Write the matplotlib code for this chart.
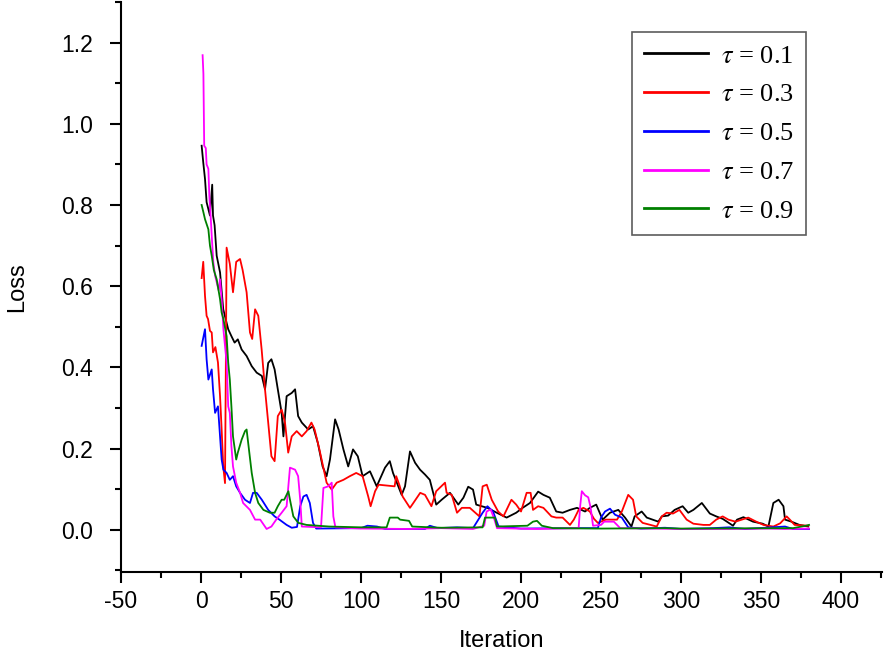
import matplotlib
matplotlib.use("Agg")
import matplotlib.pyplot as plt
from matplotlib.ticker import MultipleLocator

# ── Data (iteration, loss) ───────────────────────────────────────────────────

X_T01 = [0.4, 1.4, 2.5, 3.5, 5.6, 7.0, 7.5, 8.5, 9.8, 11.9, 13.9, 17, 19, 21, 23, 25.4,
         28.5, 31.7, 34.8, 38, 40, 42, 44, 46, 48, 50.4, 51.5, 53.5, 56.7, 58.8, 60.7,
         63, 67, 70, 73, 76, 78.5, 80.6, 83.8, 86, 89, 92, 95, 98, 101, 105.6, 109.8,
         115, 118, 120, 125.4, 127.5, 130.6, 133.8, 136.9, 140, 143, 147, 150.4, 155.6,
         160.8, 164, 167, 170, 172, 175.4, 179, 184.8, 191, 197, 201, 205.6, 210.7, 214,
         218, 222, 226, 230.6, 235, 240, 243, 247, 251, 255.6, 260.8, 265, 269, 271,
         275.4, 278.6, 285.8, 288, 292, 296, 301, 304.5, 307.7, 313, 318, 322, 326,
         332.5, 335, 339, 345, 351, 354.6, 357.7, 361, 364, 365, 369, 374, 379.5]
Y_T01 = [0.946, 0.905, 0.864, 0.807, 0.774, 0.850, 0.774, 0.750, 0.675, 0.634, 0.543,
         0.494, 0.477, 0.461, 0.469, 0.444, 0.428, 0.403, 0.387, 0.379, 0.346, 0.411,
         0.420, 0.395, 0.346, 0.288, 0.230, 0.329, 0.337, 0.346, 0.280, 0.264, 0.247,
         0.255, 0.214, 0.156, 0.132, 0.173, 0.272, 0.247, 0.198, 0.156, 0.198, 0.181,
         0.132, 0.144, 0.107, 0.153, 0.169, 0.140, 0.086, 0.107, 0.193, 0.165, 0.148,
         0.136, 0.123, 0.062, 0.074, 0.091, 0.062, 0.079, 0.106, 0.099, 0.062, 0.058,
         0.054, 0.042, 0.030, 0.042, 0.054, 0.066, 0.094, 0.086, 0.079, 0.045, 0.042,
         0.049, 0.054, 0.045, 0.054, 0.062, 0.025, 0.042, 0.049, 0.030, 0.008, 0.033,
         0.045, 0.030, 0.020, 0.033, 0.035, 0.049, 0.058, 0.042, 0.049, 0.066, 0.040,
         0.033, 0.027, 0.010, 0.025, 0.031, 0.020, 0.015, 0.008, 0.066, 0.074, 0.058,
         0.025, 0.020, 0.012, 0.008]

X_T03 = [0.4, 1.4, 2.5, 3.5, 4.4, 5.6, 6.7, 7.5, 9, 10.6, 11.9, 12.9, 13.9, 15, 15.6, 16,
         18, 20, 22, 24.4, 26, 28.5, 30.6, 32, 33.8, 35.8, 37.9, 40, 42, 44, 46, 48,
         50.4, 52.5, 54.5, 56.7, 59.8, 63, 66, 69, 71, 74, 78.5, 81.7, 84.8, 89, 93, 97,
         101, 104.5, 106, 108.8, 111, 116, 121, 122, 124, 126, 130.6, 132.7, 137, 140,
         144, 147, 152.5, 153.5, 156.7, 160, 163, 168, 174, 176, 178.6, 181.7, 185.7,
         189, 194, 197, 200, 203.5, 206, 207.5, 210.7, 214, 219, 222, 226, 230.6, 233,
         236, 239, 243, 245.6, 248, 253, 260, 263, 267, 270, 272, 276, 284.8, 288, 291,
         295, 299, 303.5, 307.7, 314, 318, 322, 326, 329.6, 334, 342, 347, 351.5, 357.7,
         362, 366, 368, 371, 379.5]
Y_T03 = [0.620, 0.660, 0.576, 0.527, 0.519, 0.490, 0.486, 0.437, 0.450, 0.412, 0.329,
         0.247, 0.156, 0.115, 0.450, 0.695, 0.655, 0.585, 0.660, 0.667, 0.640, 0.585,
         0.486, 0.470, 0.543, 0.527, 0.444, 0.346, 0.264, 0.181, 0.169, 0.280, 0.296,
         0.264, 0.190, 0.230, 0.243, 0.230, 0.243, 0.264, 0.247, 0.198, 0.116, 0.099,
         0.116, 0.123, 0.132, 0.140, 0.132, 0.082, 0.058, 0.095, 0.111, 0.109, 0.107,
         0.132, 0.110, 0.082, 0.054, 0.066, 0.091, 0.086, 0.058, 0.095, 0.116, 0.091,
         0.086, 0.042, 0.054, 0.054, 0.033, 0.107, 0.111, 0.074, 0.045, 0.033, 0.074,
         0.062, 0.045, 0.091, 0.091, 0.049, 0.058, 0.054, 0.033, 0.030, 0.030, 0.012,
         0.025, 0.049, 0.054, 0.045, 0.027, 0.017, 0.025, 0.025, 0.045, 0.086, 0.074,
         0.033, 0.017, 0.008, 0.033, 0.042, 0.040, 0.049, 0.025, 0.015, 0.012, 0.012,
         0.025, 0.033, 0.025, 0.020, 0.030, 0.020, 0.012, 0.008, 0.016, 0.033, 0.025,
         0.012, 0.010]

X_T05 = [0.4, 2.5, 3.5, 4.6, 6.7, 7.5, 8.8, 10.6, 11.9, 12.9, 14, 16, 18, 20, 22, 24.4,
         27.5, 30.6, 32.5, 34.8, 38, 42, 46, 49, 53.5, 56.7, 60, 62, 64, 66, 68, 70, 72,
         100, 104, 110, 115, 140, 143, 148, 160, 170, 176, 179, 182.5, 186, 200, 230,
         248, 250, 252.5, 255.6, 258.8, 263, 267, 275, 290, 300, 320, 330, 340, 365,
         370, 380]
Y_T05 = [0.453, 0.494, 0.420, 0.370, 0.395, 0.346, 0.288, 0.304, 0.230, 0.173, 0.148,
         0.140, 0.123, 0.132, 0.107, 0.091, 0.074, 0.066, 0.091, 0.091, 0.074, 0.049,
         0.033, 0.025, 0.012, 0.005, 0.007, 0.058, 0.082, 0.086, 0.066, 0.017, 0.003,
         0.004, 0.010, 0.008, 0.002, 0.002, 0.010, 0.004, 0.006, 0.004, 0.042, 0.058,
         0.045, 0.008, 0.003, 0.004, 0.004, 0.030, 0.045, 0.052, 0.037, 0.030, 0.006,
         0.003, 0.005, 0.002, 0.004, 0.006, 0.002, 0.008, 0.002, 0.002]

X_T07 = [1, 1.5, 2, 3, 3.5, 4.6, 5.2, 6, 6.7, 7.7, 8.8, 9.8, 11, 11.9, 12.9, 14, 16, 17,
         18, 19, 20, 22, 24.4, 26.3, 30.6, 33.8, 37, 41, 44, 47, 50.4, 53.5, 55.6, 58.8,
         60.7, 62, 63, 75, 76.5, 79.5, 81.7, 82.7, 84, 100, 130, 150, 170, 177, 178.5,
         181, 183, 185, 210, 236, 237, 238, 240, 242, 243.5, 245, 250, 252, 258, 262,
         300, 330, 355, 365, 380]
Y_T07 = [1.169, 1.123, 0.946, 0.940, 0.900, 0.889, 0.823, 0.774, 0.724, 0.659, 0.626,
         0.610, 0.590, 0.617, 0.568, 0.494, 0.412, 0.304, 0.288, 0.206, 0.156, 0.116,
         0.091, 0.066, 0.049, 0.025, 0.025, 0.002, 0.008, 0.025, 0.042, 0.058, 0.153,
         0.148, 0.132, 0.074, 0.008, 0.006, 0.103, 0.107, 0.116, 0.033, 0.006, 0.003,
         0.002, 0.004, 0.002, 0.010, 0.045, 0.050, 0.030, 0.004, 0.002, 0.004, 0.060,
         0.095, 0.085, 0.080, 0.055, 0.010, 0.012, 0.020, 0.020, 0.004, 0.002, 0.002,
         0.003, 0.002, 0.003]

X_T09 = [0.4, 1.5, 2.5, 4.6, 5.6, 6.7, 8, 9.8, 11.9, 12.9, 14, 16, 17, 18, 19, 20, 22, 23,
         25.4, 27.5, 28.5, 30.2, 31.7, 33.8, 35.8, 39, 43, 46, 48, 50.4, 52, 54.6, 55.6,
         57.7, 60.8, 66, 80, 100, 116, 118, 123, 124.4, 130, 132, 150, 176, 177.5, 183.7,
         185, 204, 207.5, 210, 213, 220, 250, 290, 300, 370, 378, 380]
Y_T09 = [0.800, 0.782, 0.765, 0.740, 0.700, 0.675, 0.640, 0.617, 0.568, 0.535, 0.519,
         0.477, 0.412, 0.370, 0.304, 0.230, 0.173, 0.190, 0.222, 0.243, 0.247, 0.190,
         0.140, 0.091, 0.066, 0.049, 0.042, 0.042, 0.058, 0.074, 0.074, 0.095, 0.074,
         0.033, 0.017, 0.012, 0.008, 0.006, 0.006, 0.030, 0.030, 0.025, 0.022, 0.008,
         0.005, 0.006, 0.030, 0.030, 0.008, 0.010, 0.020, 0.022, 0.010, 0.004, 0.003,
         0.004, 0.003, 0.004, 0.010, 0.012]

SERIES = [
    (X_T01, Y_T01, "#000000", r"$\tau$ = 0.1"),
    (X_T03, Y_T03, "#ff0000", r"$\tau$ = 0.3"),
    (X_T05, Y_T05, "#0000ff", r"$\tau$ = 0.5"),
    (X_T07, Y_T07, "#ff00ff", r"$\tau$ = 0.7"),
    (X_T09, Y_T09, "#008000", r"$\tau$ = 0.9"),
]

# ── Figure ───────────────────────────────────────────────────────────────────

plt.rcParams["font.family"] = ["Liberation Sans", "DejaVu Sans"]
plt.rcParams["mathtext.fontset"] = "stix"
plt.rcParams["axes.unicode_minus"] = False

fig = plt.figure(figsize=(8.86, 6.59), dpi=100)
ax = fig.add_axes([121 / 886, 1 - 572 / 659, 761 / 886, 570 / 659])

for xs, ys, col, lab in SERIES:
    ax.plot(xs, ys, color=col, linewidth=1.3, label=lab)

ax.set_xlim(-50, 425.6)
ax.set_ylim(-0.104, 1.3)
ax.xaxis.set_major_locator(MultipleLocator(50))
ax.xaxis.set_minor_locator(MultipleLocator(25))
ax.yaxis.set_minor_locator(MultipleLocator(0.1))
ax.set_yticks([0.0, 0.2, 0.4, 0.6, 0.8, 1.0, 1.2])
ax.set_yticklabels(["0.0", "0.2", "0.4", "0.6", "0.8", "1.0", "1.2"])

for side in ("top", "right"):
    ax.spines[side].set_visible(False)
for side in ("left", "bottom"):
    ax.spines[side].set_linewidth(1.5)

ax.tick_params(which="major", direction="out", length=8, width=1.5, labelsize=16.5)
ax.tick_params(which="minor", direction="out", length=4.5, width=1.5)
ax.tick_params(axis="x", which="major", pad=5)
ax.tick_params(axis="y", which="major", pad=12)

ax.set_xlabel("Iteration", fontsize=17, labelpad=12)
ax.set_ylabel("Loss", fontsize=17, labelpad=24)

leg = ax.legend(loc="upper left", bbox_to_anchor=(0.671, 0.947),
                prop={"family": "Liberation Serif", "size": 19},
                frameon=True, fancybox=False, shadow=False, handlelength=2.45,
                borderpad=0.45, labelspacing=0.58, handletextpad=0.5,
                borderaxespad=0)
leg.get_frame().set_edgecolor("#333333")
leg.get_frame().set_linewidth(1.2)
for line in leg.get_lines():
    line.set_linewidth(2)

fig.savefig("out.png", dpi=100)
